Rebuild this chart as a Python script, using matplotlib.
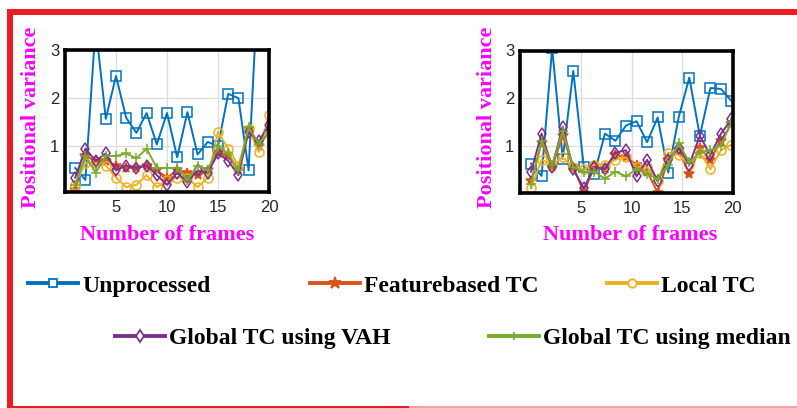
import numpy as np
import matplotlib
matplotlib.use('Agg')
import matplotlib.pyplot as plt
from matplotlib.lines import Line2D
from matplotlib.patches import Rectangle

# %%
### Dati

frames_sx = [1, 2, 3, 4, 5, 6, 7, 8, 9, 10, 11, 12, 13, 14, 15, 16, 17, 18, 19, 20]
frames_dx = [0, 1.05, 2.1, 3.15, 4.2, 5.25, 6.3, 7.35, 8.4, 9.45,
             10.5, 11.55, 12.6, 13.65, 14.7, 15.75, 16.8, 17.85, 18.9, 19.95]

nomi_serie = ['Unprocessed', 'Featurebased TC', 'Local TC',
              'Global TC using VAH', 'Global TC using median']

# grafico di sinistra
unproc_sx = [0.55, 0.30, 3.50, 1.57, 2.46, 1.59, 1.28, 1.69, 1.04, 1.69,
             0.77, 1.71, 0.83, 1.09, 1.00, 2.09, 2.00, 0.50, 4.70, 4.20]
feat_sx = [0.10, 0.80, 0.70, 0.70, 0.60, 0.55, 0.55, 0.60, 0.50, 0.35,
           0.50, 0.45, 0.40, 0.50, 0.85, 0.80, 0.50, 1.35, 1.00, 1.30]
local_sx = [0.20, 0.65, 0.65, 0.60, 0.35, 0.15, 0.20, 0.40, 0.15, 0.30,
            0.35, 0.35, 0.15, 0.35, 1.30, 0.95, 0.60, 1.35, 0.88, 1.65]
vah_sx = [0.35, 0.95, 0.70, 0.85, 0.50, 0.60, 0.55, 0.60, 0.40, 0.20,
          0.45, 0.25, 0.50, 0.45, 0.85, 0.70, 0.40, 1.30, 1.10, 1.45]
median_sx = [0.20, 0.80, 0.45, 0.80, 0.80, 0.85, 0.75, 0.95, 0.55, 0.55,
             0.55, 0.30, 0.60, 0.50, 1.00, 0.85, 0.50, 1.40, 1.05, 1.30]

# grafico di destra
unproc_dx = [0.62, 0.36, 3.05, 0.72, 2.57, 0.55, 0.40, 1.25, 1.10, 1.42,
             1.51, 1.07, 1.59, 0.43, 1.60, 2.43, 1.20, 2.21, 2.19, 1.94]
feat_dx = [0.25, 1.05, 0.55, 1.20, 0.55, 0.01, 0.55, 0.50, 0.80, 0.75,
           0.60, 0.45, 0.01, 0.70, 0.90, 0.40, 0.95, 0.70, 1.10, 1.45]
local_dx = [0.10, 0.70, 0.60, 0.75, 0.55, 0.50, 0.60, 0.60, 0.70, 0.75,
            0.55, 0.55, 0.25, 0.85, 0.80, 0.60, 0.85, 0.50, 0.90, 1.02]
vah_dx = [0.45, 1.25, 0.55, 1.40, 0.50, 0.10, 0.55, 0.50, 0.85, 0.90,
          0.35, 0.70, 0.25, 0.70, 0.95, 0.60, 1.20, 0.80, 1.25, 1.55]
median_dx = [0.20, 1.10, 0.60, 1.30, 0.55, 0.45, 0.45, 0.30, 0.45, 0.35,
             0.50, 0.40, 0.30, 0.60, 1.05, 0.65, 0.85, 0.90, 1.00, 1.50]

# %%
### Parametri

colori = ['#0072BD', '#D95319', '#EDB120', '#7E2F8E', '#77AC30']
marker = ['s', '*', 'o', 'd', '+']
riempito = [False, True, False, False, True]
colore_label = '#FF00FF'
colore_tick = '#262626'
rosso = '#ED1C24'
W, H = 797, 408

fig = plt.figure(figsize=(W / 100, H / 100), dpi=100)

def f_pannello(ax, x, serie, xlim, ylim):
    for y, c, m, r in zip(serie, colori, marker, riempito):
        ax.plot(x, y, color=c, lw=1.4, marker=m, ms=6.5 if m != '*' else 7.5,
                mfc=c if r else 'none', mec=c, mew=1.1, clip_on=True)
    ax.set_xlim(*xlim)
    ax.set_ylim(*ylim)
    ax.set_xticks([5, 10, 15, 20])
    ax.set_yticks([1, 2, 3])
    ax.grid(True, color='#dcdcdc', lw=0.9)
    ax.set_axisbelow(True)
    for s in ax.spines.values():
        s.set_linewidth(2.6)
        s.set_color('black')
    ax.tick_params(length=0, labelsize=12, colors=colore_tick)
    ax.tick_params(axis='x', pad=6)
    ax.tick_params(axis='y', pad=4)
    for t in ax.get_xticklabels() + ax.get_yticklabels():
        t.set_family('Liberation Sans')

ax1 = fig.add_axes([65 / W, 1 - 192 / H, 204 / W, 142 / H])
f_pannello(ax1, frames_sx, [unproc_sx, feat_sx, local_sx, vah_sx, median_sx], (0, 20), (0.05, 3))

ax2 = fig.add_axes([520 / W, 1 - 193 / H, 213 / W, 142.5 / H])
f_pannello(ax2, frames_dx, [unproc_dx, feat_dx, local_dx, vah_dx, median_dx], (-1.1, 20.1), (0, 3))

### Etichette degli assi
font_lab = dict(family='Liberation Serif', weight='bold', size=16, color=colore_label)
for xc in [31, 487]:
    fig.text(xc / W, 1 - 117 / H, 'Positional variance', rotation=90, ha='center', va='center', **font_lab)
for xc in [167, 630]:
    fig.text(xc / W, 1 - 235 / H, 'Number of frames', ha='center', va='center', **font_lab)

### Legenda: una voce alla volta
pos_legenda = [(28, 286), (310, 286), (607, 286), (115, 338), (489, 338)]
for nome, c, m, r, (px, py) in zip(nomi_serie, colori, marker, riempito, pos_legenda):
    h = Line2D([], [], color=c, lw=2.8, marker=m, ms=6 if m != '*' else 9,
               mfc=c if r else 'white', mec=c, mew=1.3)
    fig.legend([h], [nome], loc='center left', bbox_to_anchor=(px / W, 1 - py / H),
               frameon=False, borderpad=0, borderaxespad=0, handlelength=2.1, handletextpad=0.2,
               prop=dict(family='Liberation Serif', weight='bold', size=17))

### Cornice rossa
fig.add_artist(Rectangle((7 / W, 0), 6 / W, 1 - 9 / H, transform=fig.transFigure, color=rosso, lw=0))
fig.add_artist(Rectangle((7 / W, 1 - 15 / H), 1, 6 / H, transform=fig.transFigure, color=rosso, lw=0))
fig.add_artist(Rectangle((7 / W, 0), 402 / W, 2.5 / H, transform=fig.transFigure, color=rosso, lw=0))
fig.add_artist(Rectangle((409 / W, 0), 1, 2 / H, transform=fig.transFigure, color='#f2a0a4', lw=0))

plt.savefig('out.png', dpi=100)
plt.close()
